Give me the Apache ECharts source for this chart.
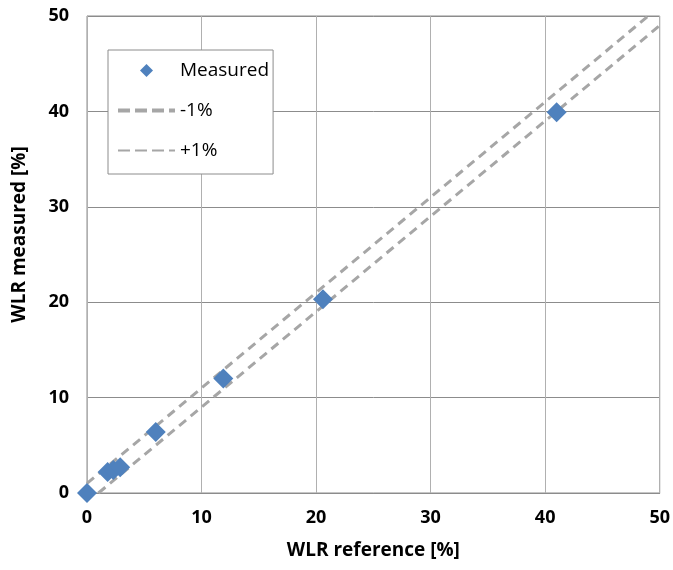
<!DOCTYPE html>
<html>
<head>
<meta charset="utf-8">
<script src="https://cdn.jsdelivr.net/npm/echarts@6/dist/echarts.min.js"></script>
<style>
  html, body { margin: 0; padding: 0; background: #fff; }
  #chart { width: 673px; height: 570px; }
</style>
</head>
<body>
<div id="chart"></div>
<script>
// measured points [reference, measured]
const measured = [
  [0, 0],
  [1.8, 2.2],
  [2.3, 2.4],
  [2.9, 2.7],
  [6.0, 6.4],
  [11.9, 12.0],
  [20.6, 20.3],
  [41.0, 39.9]
]
// tolerance lines
const minusLine = [[1, 0], [50, 49]]
const plusLine = [[0, 1], [49, 50]]

const chart = echarts.init(document.getElementById('chart'))
const font = '"Open Sans", sans-serif'
const gray = '#a6a6a6'

const dashed = (width) => ({
  color: gray,
  width: width,
  type: [9, 6]
})

// legend icons drawn in a 57x18 box (leading moves fix the box size)
const legendDiamond = 'path://M0,0 M57,18 M22,9 L28.5,2.5 L35,9 L28.5,15.5 Z'
const dashIcon = (h) => {
  const y0 = 9 - h / 2, y1 = 9 + h / 2
  let p = 'path://M0,0 M57,18'
  ;[[0, 12], [17, 29], [34, 46], [51, 57]].forEach(([a, b]) => {
    p += ` M${a},${y0} L${b},${y0} L${b},${y1} L${a},${y1} Z`
  })
  return p
}

chart.setOption({
  animation: false,
  textStyle: { fontFamily: font },
  grid: { left: 87, right: 13, top: 16, bottom: 77, show: true, borderColor: '#8c8c8c', borderWidth: 1 },
  legend: {
    orient: 'vertical',
    left: 108,
    top: 50,
    padding: [11, 4, 14, 10],
    backgroundColor: '#fff',
    borderColor: '#8c8c8c',
    borderWidth: 1,
    itemWidth: 57,
    itemHeight: 18,
    itemGap: 21,
    textStyle: { fontSize: 19, color: '#000', fontFamily: font },
    data: [
      { name: 'Measured', icon: legendDiamond, itemStyle: { color: '#4f81bd' } },
      { name: '-1%', icon: dashIcon(4), itemStyle: { color: gray } },
      { name: '+1%', icon: dashIcon(2), itemStyle: { color: gray } }
    ]
  },
  xAxis: {
    type: 'value',
    min: 0, max: 50, interval: 10,
    name: 'WLR reference [%]',
    nameLocation: 'middle',
    nameGap: 48,
    nameTextStyle: { fontSize: 19, fontWeight: 'bold', color: '#000' },
    axisLine: { show: true, lineStyle: { color: '#8c8c8c' } },
    axisTick: { show: false },
    axisLabel: { fontSize: 18, fontWeight: 'bold', color: '#000', margin: 16 },
    splitLine: { lineStyle: { color: '#b0b0b0', width: 1 } }
  },
  yAxis: {
    type: 'value',
    min: 0, max: 50, interval: 10,
    name: 'WLR measured [%]',
    nameLocation: 'middle',
    nameGap: 58,
    nameTextStyle: { fontSize: 19, fontWeight: 'bold', color: '#000', padding: [0, 0, 0, 40] },
    axisLine: { show: true, lineStyle: { color: '#b0b0b0' } },
    axisTick: { show: false },
    axisLabel: { fontSize: 18, fontWeight: 'bold', color: '#000', margin: 18 },
    splitLine: { lineStyle: { color: '#8c8c8c', width: 1 } }
  },
  series: [
    {
      name: 'Measured',
      type: 'scatter',
      symbol: 'diamond',
      symbolSize: 20,
      itemStyle: { color: '#4f81bd', opacity: 1 },
      data: measured,
      z: 5
    },
    {
      name: '-1%',
      type: 'line',
      symbol: 'none',
      itemStyle: { color: gray },
      lineStyle: dashed(3),
      data: minusLine
    },
    {
      name: '+1%',
      type: 'line',
      symbol: 'none',
      itemStyle: { color: gray },
      lineStyle: dashed(3),
      data: plusLine
    }
  ]
})
</script>
</body>
</html>
